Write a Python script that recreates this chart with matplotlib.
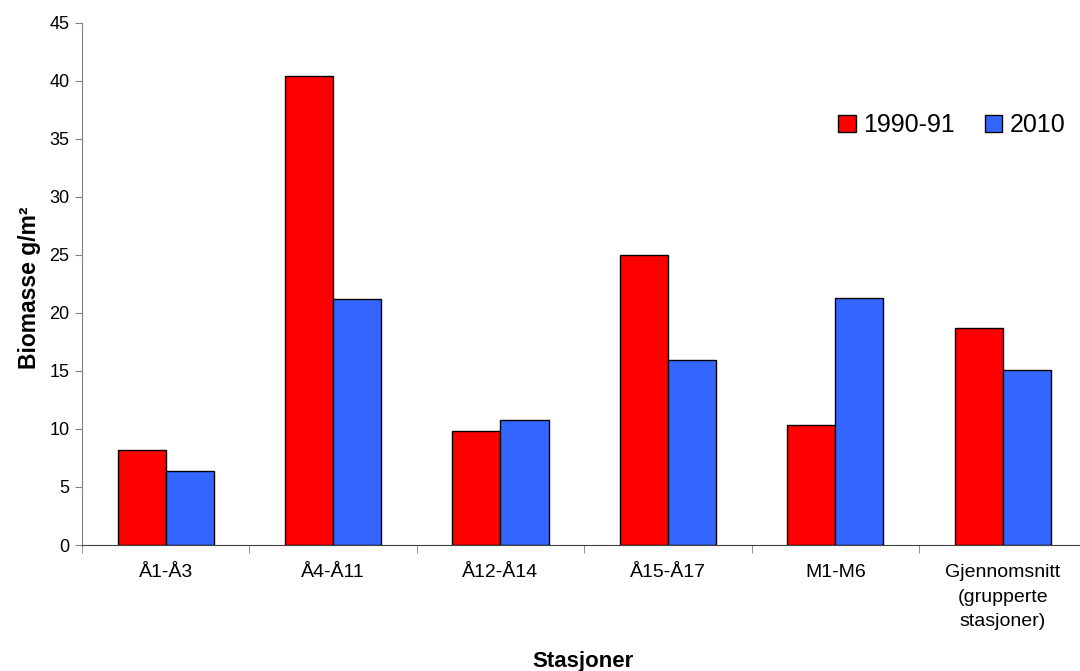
import numpy as np
import matplotlib
matplotlib.use("Agg")
import matplotlib.pyplot as plt

plt.rcParams['font.family'] = ['Liberation Sans', 'DejaVu Sans']

# data
stations = ['Å1-Å3', 'Å4-Å11', 'Å12-Å14', 'Å15-Å17', 'M1-M6',
            'Gjennomsnitt\n(grupperte\nstasjoner)']
biomass_1990 = [8.2, 40.4, 9.8, 25.0, 10.3, 18.7]
biomass_2010 = [6.4, 21.2, 10.8, 15.9, 21.3, 15.1]
series_names = ['1990-91', '2010']
yticks = [0, 5, 10, 15, 20, 25, 30, 35, 40, 45]

fig = plt.figure(figsize=(10.8, 6.71), dpi=100)
ax = fig.add_axes([82/1080, 126/671, 6*167.4/1080, (545-22.5)/671])

x = np.arange(len(stations))
w = 0.287
ax.bar(x - w/2, biomass_1990, w, color='#ff0000', edgecolor='black', linewidth=1.0, label=series_names[0])
ax.bar(x + w/2, biomass_2010, w, color='#3366ff', edgecolor='black', linewidth=1.0, label=series_names[1])

ax.set_xlim(-0.5, len(stations) - 0.5)
ax.set_ylim(0, 45)
ax.set_yticks(yticks)
ax.tick_params(axis='y', labelsize=13, length=5, color='#808080', pad=4)

# category labels at centers, tick marks on group boundaries
ax.set_xticks(x)
ax.set_xticklabels(stations, fontsize=14, linespacing=1.55, va='top')
ax.tick_params(axis='x', which='major', length=0, pad=14)
ax.set_xticks(np.arange(len(stations)) - 0.5, minor=True)
ax.tick_params(axis='x', which='minor', length=6, color='#808080')

for s in ['top', 'right']:
    ax.spines[s].set_visible(False)
ax.spines['left'].set_color('#808080')
ax.spines['bottom'].set_color('#404040')

fig.text(30/1080, 1 - 288/671, 'Biomasse g/m²', rotation=90, fontsize=16.5,
         fontweight='bold', ha='center', va='center')
fig.text(583/1080, 1 - 661/671, 'Stasjoner', fontsize=16,
         fontweight='bold', ha='center', va='center')

ax.legend(loc='upper left', bbox_to_anchor=(828/1080, 1 - 103/671), bbox_transform=fig.transFigure,
          frameon=False, ncol=2, fontsize=18, handlelength=0.7, handleheight=0.7,
          handletextpad=0.3, columnspacing=1.2, borderaxespad=0)

fig.savefig('out.png', dpi=100)
